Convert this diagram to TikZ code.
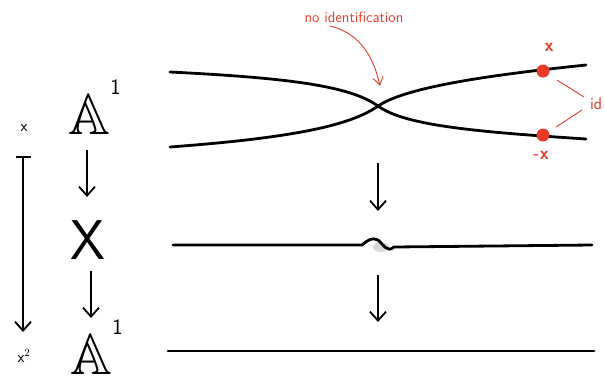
\documentclass[tikz,border=0pt]{standalone}
\usepackage{amssymb}
\usetikzlibrary{arrows.meta}
\definecolor{myred}{RGB}{232,58,40}
\begin{document}
\begin{tikzpicture}[x=1pt,y=-1pt,
  curve/.style={line width=2.8pt,line cap=round},
  marr/.style={line width=1.8pt,-{Straight Barb[length=9pt,width=16pt,line width=1.8pt]}},
  redline/.style={myred,line width=0.9pt},
  bigtxt/.style={font=\fontsize{58}{58}\selectfont,inner sep=0pt},
  suptxt/.style={font=\fontsize{22}{22}\selectfont\sffamily,inner sep=0pt},
  smalltxt/.style={font=\fontsize{16}{16}\selectfont\sffamily,inner sep=0pt}]
\useasboundingbox (0,0) rectangle (605,376);
% top curves
\coordinate (c) at (378,106);
\coordinate (ul) at (170,72);
\coordinate (ll) at (170,147);
\coordinate (ur) at (586,65);
\coordinate (lr) at (586,139);
\draw[curve] (ul) .. controls (290,78) and (350,86) .. (c) .. controls (405,126) and (480,132) .. (lr);
\draw[curve] (ll) .. controls (290,138) and (350,126) .. (c) .. controls (405,88) and (480,76) .. (ur);
% red dots
\node[circle,fill=myred,inner sep=0pt,minimum size=13pt] (p1) at (543,71) {};
\node[circle,fill=myred,inner sep=0pt,minimum size=13pt] (p2) at (543,135) {};
\node[myred,font=\fontsize{18}{18}\selectfont\sffamily\bfseries,inner sep=0pt] (xl) at (549,47) {x};
\node[myred,font=\fontsize{18}{18}\selectfont\sffamily\bfseries,inner sep=0pt] (mxl) at (541,155) {-x};
\node[myred,font=\fontsize{17}{17}\selectfont\sffamily,inner sep=0pt,anchor=west] (id) at (590,104) {id};
\draw[redline] (557,80) -- (584,97);
\draw[redline] (556,127) -- (582,110);
% no identification
\node[myred,font=\fontsize{15}{15}\selectfont\sffamily,inner sep=0pt] (noid) at (354,17) {no identification};
\coordinate (na) at (330,26);
\coordinate (nb) at (380,86);
\draw[redline,-{Straight Barb[length=8pt,width=10pt,line width=0.9pt]}] (na) .. controls (355,32) and (372,50) .. (nb);
% middle line
\fill[gray,opacity=0.3] (381,247) ellipse (8pt and 5pt);
\draw[curve] (173,245) -- (362,245) .. controls (368,240) and (372,237) .. (378,240) .. controls (384,245) and (387,253) .. (394,247) -- (592,245);
% bottom line
\draw[curve] (168,351) -- (594,351);
% middle arrows
\coordinate (m1a) at (378,163); \coordinate (m1b) at (378,211);
\coordinate (m2a) at (378,275); \coordinate (m2b) at (378,322);
\draw[marr] (m1a) -- (m1b);
\draw[marr] (m2a) -- (m2b);
% left column
\node[bigtxt] (a1) at (89,115) {$\mathbb{A}$};
\node[suptxt,anchor=south west] (s1) at (a1.north east) {1};
\node[bigtxt,font=\fontsize{56}{56}\selectfont\sffamily] (X) at (88,240) {X};
\node[bigtxt] (a2) at (91,355) {$\mathbb{A}$};
\node[suptxt,anchor=south west] (s2) at (a2.north east) {1};
\draw[marr] (87,150) -- (87,197);
\draw[marr] (91,271) -- (91,318);
% far left
\node[smalltxt] (xs) at (24,128) {x};
\node[smalltxt] (xsq) at (24,356) {x$^2$};
\draw[line width=1.8pt] (16,157) -- (31,157);
\draw[marr] (23,157) -- (23,332);
\end{tikzpicture}
\end{document}
